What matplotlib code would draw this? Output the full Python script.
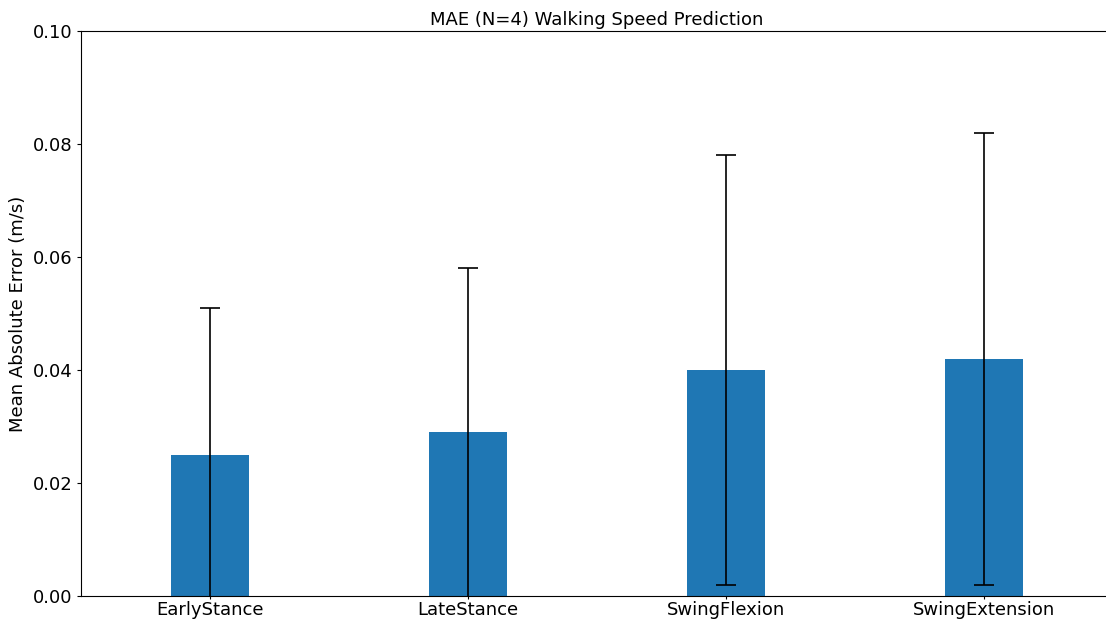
import matplotlib
matplotlib.use("Agg")
import matplotlib.pyplot as plt
import numpy as np

phases = ["EarlyStance", "LateStance", "SwingFlexion", "SwingExtension"]
mae = [0.025, 0.029, 0.040, 0.042]
mae_std = [0.026, 0.0291, 0.038, 0.040]

fig = plt.figure(figsize=(11.06, 6.21), dpi=100)
# axes run slightly past the right edge, like the cropped original
ax = fig.add_axes([81/1106, 25/621, 1032/1106, 565/621])

x = np.arange(len(phases))
ax.bar(x, mae, width=0.3, color="#1f77b4", yerr=mae_std, capsize=7,
       error_kw=dict(ecolor="black", elinewidth=1.2, capthick=1.2))
ax.set_xticks(x)
ax.set_xticklabels(phases, fontsize=13)
ax.set_xlim(-0.5, 3.5)
ax.set_ylim(0, 0.1)
ax.set_yticks(np.arange(0, 0.101, 0.02))
ax.tick_params(axis="x", length=2.5, pad=1)
ax.tick_params(axis="y", labelsize=13, length=3, pad=3)
ax.set_ylabel("Mean Absolute Error (m/s)", fontsize=13)
ax.set_title("MAE (N=4) Walking Speed Prediction", fontsize=13, pad=4)

fig.savefig("out.png", dpi=100)
